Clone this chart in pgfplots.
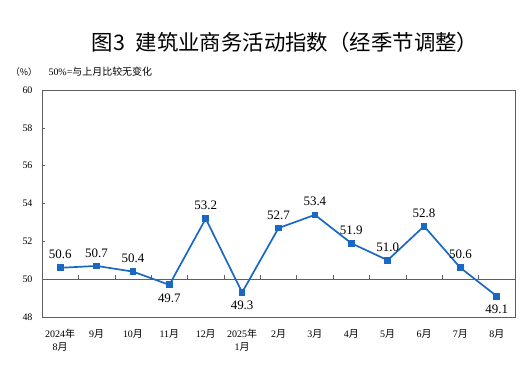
\documentclass[border=0pt]{standalone}
\usepackage{pgfplots}
\pgfplotsset{compat=1.18}
\usepackage{fontspec}
\setmainfont{Liberation Serif}
\newfontfamily\cjk{Noto Sans CJK SC}
\definecolor{lineblue}{RGB}{24,104,196}
\definecolor{framegray}{RGB}{95,95,95}
\begin{document}
\begin{tikzpicture}
\path[use as bounding box] (-42bp,-65bp) rectangle (489bp,317bp);
\begin{axis}[
  at={(0,0)}, anchor=south west,
  scale only axis, width=473bp, height=227bp,
  xmin=-0.5, xmax=12.5, ymin=48, ymax=60,
  ytick={48,50,...,60},
  xtick={0,...,12},
  xticklabels={{2024{\cjk 年}\\8{\cjk 月}},{9{\cjk 月}},{10{\cjk 月}},{11{\cjk 月}},{12{\cjk 月}},{2025{\cjk 年}\\1{\cjk 月}},{2{\cjk 月}},{3{\cjk 月}},{4{\cjk 月}},{5{\cjk 月}},{6{\cjk 月}},{7{\cjk 月}},{8{\cjk 月}}},
  xticklabel style={align=center, font=\fontsize{10}{13}\selectfont, yshift=-9bp},
  yticklabel style={font=\fontsize{10}{12}\selectfont, xshift=-6bp},
  /pgf/number format/assume math mode=true,
  major x tick style={draw=none},
  ytick pos=left, tick align=inside, major tick length=3bp,
  tick style={framegray, line width=0.5pt},
  axis line style={framegray, line width=0.9pt},
  clip=false,
]
\addplot[framegray, line width=0.7pt, forget plot] coordinates {(-0.5,50) (12.5,50)};
\addplot[framegray, line width=0.5pt, unbounded coords=jump, forget plot] coordinates {
 (0.5,50) (0.5,50.22) (0.5,inf)
 (1.5,50) (1.5,50.22) (1.5,inf)
 (2.5,50) (2.5,50.22) (2.5,inf)
 (3.5,50) (3.5,50.22) (3.5,inf)
 (4.5,50) (4.5,50.22) (4.5,inf)
 (5.5,50) (5.5,50.22) (5.5,inf)
 (6.5,50) (6.5,50.22) (6.5,inf)
 (7.5,50) (7.5,50.22) (7.5,inf)
 (8.5,50) (8.5,50.22) (8.5,inf)
 (9.5,50) (9.5,50.22) (9.5,inf)
 (10.5,50) (10.5,50.22) (10.5,inf)
 (11.5,50) (11.5,50.22) (11.5,inf)
};
\addplot[lineblue, line width=1.7pt, mark=square*, mark size=2.5bp,
  mark options={solid, fill=lineblue, draw=lineblue}] coordinates {
 (0,50.6) (1,50.7) (2,50.4) (3,49.7) (4,53.2) (5,49.3) (6,52.7)
 (7,53.4) (8,51.9) (9,51.0) (10,52.8) (11,50.6) (12,49.1)
};
\addplot[draw=none, mark=none, point meta=explicit symbolic, nodes near coords,
  every node near coord/.append style={anchor=south, text=black, font=\fontsize{13}{14}\selectfont, inner sep=8.5bp}]
  coordinates {
 (0,50.6) [50.6] (1,50.7) [50.7] (2,50.4) [50.4] (4,53.2) [53.2] (6,52.7) [52.7]
 (7,53.4) [53.4] (8,51.9) [51.9] (9,51.0) [51.0] (10,52.8) [52.8] (11,50.6) [50.6]
};
\addplot[draw=none, mark=none, point meta=explicit symbolic, nodes near coords,
  every node near coord/.append style={anchor=north, text=black, font=\fontsize{13}{14}\selectfont, inner sep=8.5bp}]
  coordinates {
 (3,49.7) [49.7] (5,49.3) [49.3] (12,49.1) [49.1]
};
\end{axis}
\node[font=\cjk\fontsize{21.5}{24}\selectfont] at (243bp,275bp) {图3\hspace{0.5em}建筑业商务活动指数（经季节调整）};
\node[font=\cjk\fontsize{9}{10}\selectfont] at (-18bp,245bp) {（\%）};
\node[anchor=west, font=\fontsize{10}{11}\selectfont] at (3bp,245bp) {50\%={\cjk 与上月比较无变化}};
\end{tikzpicture}
\end{document}
